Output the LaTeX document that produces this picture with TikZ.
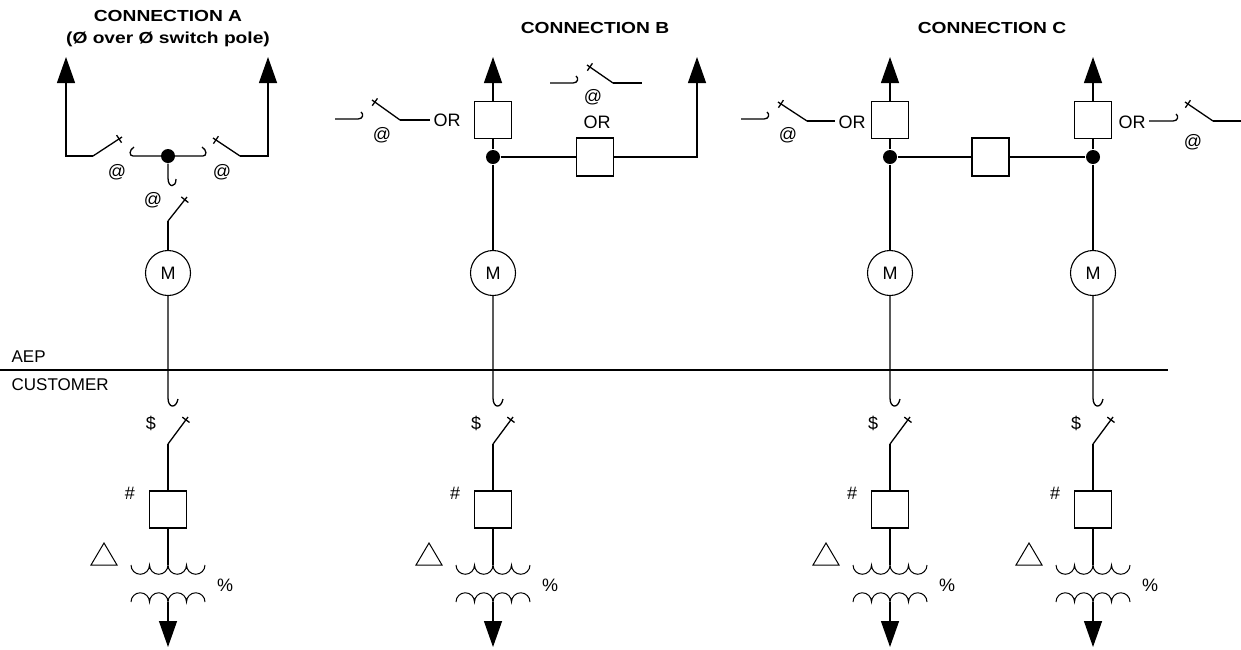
\documentclass[tikz,border=0pt]{standalone}
\usepackage{fontspec}
\setmainfont{Liberation Sans}
\newfontfamily\titlefont[FakeStretch=1.2]{Liberation Sans}
\usetikzlibrary{arrows.meta,calc}
\newcommand{\swblade}[2]{%
  \draw (#1) -- (#2);
  \path ($(#2)!3.5pt!(#1)$) coordinate (swt);
  \draw ($(swt)!4.5pt!90:(#2)$) -- ($(swt)!4.5pt!-90:(#2)$);}
\tikzset{
  upar/.style={-{Triangle[length=26pt,width=18pt]}},
  dotnode/.style={circle,fill,inner sep=0pt,minimum size=14pt},
  boxnode/.style={draw,line width=1.3pt,minimum width=37pt,minimum height=37pt,inner sep=0pt},
  motor/.style={draw,circle,line width=1.1pt,minimum size=45pt,inner sep=0pt,font=\fontsize{18}{20}\selectfont},
  lbl/.style={inner sep=0pt,font=\fontsize{18}{20}\selectfont},
  orlbl/.style={inner sep=3pt,font=\fontsize{18}{20}\selectfont},
  sidelbl/.style={inner sep=0pt,anchor=west,font=\fontsize{17}{20}\selectfont},
  ttl/.style={inner sep=0pt,align=center,font=\titlefont\bfseries\fontsize{16}{22}\selectfont},
  thin/.style={line width=1pt}
}
\begin{document}
\begin{tikzpicture}[x=1pt,y=-1pt,line width=1.3pt]
\useasboundingbox (0,0) rectangle (1241,649);

% titles
\node[ttl] (tA) at (168,29) {CONNECTION A\\(Ø over Ø switch pole)};
\node[ttl] (tB) at (595,28) {CONNECTION B};
\node[ttl] (tC) at (992,28) {CONNECTION C};

% lower repeated columns
\foreach \x/\n in {168/a,493/b,890/c,1093/d}{
  \node[motor] (m\n) at (\x,273) {M};
  \coordinate (h\n) at (\x,398);
  \draw (m\n) -- (h\n) .. controls (\x,408) and (\x+8,409) .. (\x+10,399);
  \coordinate (p\n) at (\x,444);
  \coordinate (e\n) at (\x+20,417);
  \swblade{p\n}{e\n}
  \node[boxnode] (f\n) at (\x,509.5) {};
  \draw (p\n) -- (f\n);
  \coordinate (t\n) at (\x,565);
  \draw (f\n) -- (t\n);
  \draw[thin] (\x-37,565) arc[start angle=180,end angle=0,radius=9.25]
     arc[start angle=180,end angle=0,radius=9.25]
     arc[start angle=180,end angle=0,radius=9.25]
     arc[start angle=180,end angle=0,radius=9.25];
  \draw[thin] (\x-37,602) arc[start angle=180,end angle=360,radius=9.25]
     arc[start angle=180,end angle=360,radius=9.25]
     arc[start angle=180,end angle=360,radius=9.25]
     arc[start angle=180,end angle=360,radius=9.25];
  \coordinate (s\n) at (\x,602);
  \coordinate (o\n) at (\x,647);
  \draw[upar] (s\n) -- (o\n);
  \draw[thin] (\x-77,565) -- (\x-51,565) -- (\x-64,543) -- cycle;
  \node[lbl] (dl\n) at (\x-17,423) {\$};
  \node[lbl] (hs\n) at (\x-38,493) {\#};
  \node[lbl] (pc\n) at (\x+57,585) {\%};
}

% AEP / customer boundary
\coordinate (L1) at (0,370);
\coordinate (L2) at (1168,370);
\draw (L1) -- (L2);
\node[sidelbl] (aep) at (11,357) {AEP};
\node[sidelbl] (cust) at (11,385) {CUSTOMER};

% ---------- Connection A ----------
\coordinate (aL) at (66,57);
\coordinate (aLc) at (66,156);
\coordinate (aLp) at (93,156);
\coordinate (aLe) at (122,137);
\draw[upar] (aLp) -- (aLc) -- (aL);
\swblade{aLp}{aLe}
\coordinate (aR) at (268,57);
\coordinate (aRc) at (268,156);
\coordinate (aRp) at (240,156);
\coordinate (aRe) at (213,138);
\draw[upar] (aRp) -- (aRc) -- (aR);
\swblade{aRp}{aRe}
\coordinate (aHl) at (133,156);
\coordinate (aHr) at (203,156);
\draw (134,147) .. controls (129,150) and (129,156) .. (aHl) -- (aHr)
      .. controls (207,156) and (207,150) .. (202,147);
\node[dotnode] (dA) at (168,156) {};
\coordinate (aDh) at (168,178);
\draw (dA) -- (aDh) .. controls (168,188) and (176,188) .. (176,179);
\coordinate (aDp) at (168,221);
\coordinate (aDe) at (187,197);
\swblade{aDp}{aDe}
\draw (aDp) -- (ma);
\node[lbl] (atA1) at (117,172) {@};
\node[lbl] (atA2) at (222,172) {@};
\node[lbl] (atA3) at (153,200) {@};

% ---------- Connection B ----------
\node[dotnode] (dB) at (493,157) {};
\node[boxnode] (bB1) at (493,120) {};
\coordinate (arB1) at (493,57);
\draw (dB) -- (bB1);
\draw[upar] (bB1.north) -- (arB1);
\draw (dB) -- (mb);
\node[boxnode,minimum height=38pt] (bB2) at (595,157) {};
\coordinate (cB2) at (697,157);
\coordinate (arB2) at (697,57);
\draw (dB) -- (bB2);
\draw[upar] (bB2) -- (cB2) -- (arB2);
% left switch
\coordinate (sBl1) at (335,119);
\coordinate (sBl2) at (358,119);
\draw (sBl1) -- (sBl2) .. controls (363,119) and (364,114) .. (361,112);
\coordinate (sBlp) at (400,120);
\coordinate (sBle) at (372,100);
\swblade{sBlp}{sBle}
\node[orlbl] (orB1) at (447,120) {OR};
\draw (sBlp) -- (orB1.west |- sBlp);
\node[lbl] (atB1) at (382,135) {@};
% upper switch
\coordinate (sBu1) at (550,83);
\coordinate (sBu2) at (573,83);
\draw (sBu1) -- (sBu2) .. controls (578,83) and (579,78) .. (576,76);
\coordinate (sBup) at (613,83);
\coordinate (sBue) at (587,65);
\coordinate (sBur) at (642,83);
\swblade{sBup}{sBue}
\draw (sBup) -- (sBur);
\node[lbl] (atB2) at (593,97) {@};
\node[lbl] (orB2) at (597,122) {OR};

% ---------- Connection C ----------
\node[dotnode] (dC1) at (890,157) {};
\node[dotnode] (dC2) at (1093,157) {};
\node[boxnode] (bC1) at (890,120) {};
\node[boxnode] (bC2) at (1093,120) {};
\node[boxnode,minimum height=38pt] (bC3) at (990.5,157) {};
\coordinate (arC1) at (890,57);
\coordinate (arC2) at (1093,57);
\draw (dC1) -- (bC1);
\draw (dC2) -- (bC2);
\draw[upar] (bC1.north) -- (arC1);
\draw[upar] (bC2.north) -- (arC2);
\draw (dC1) -- (bC3);
\draw (bC3) -- (dC2);
\draw (dC1) -- (mc);
\draw (dC2) -- (md);
% left switch
\coordinate (sCl1) at (741,119);
\coordinate (sCl2) at (764,119);
\draw (sCl1) -- (sCl2) .. controls (769,119) and (770,114) .. (767,112);
\coordinate (sClp) at (807,121);
\coordinate (sCle) at (778,102);
\swblade{sClp}{sCle}
\node[orlbl] (orC1) at (852,122) {OR};
\draw (sClp) -- (orC1.west |- sClp);
\node[lbl] (atC1) at (788,135) {@};
% right switch
\node[orlbl] (orC2) at (1132,122) {OR};
\coordinate (sCr1) at (1173,121);
\draw (orC2.east |- sCr1) -- (sCr1) .. controls (1178,121) and (1179,116) .. (1176,114);
\coordinate (sCrp) at (1213,121);
\coordinate (sCre) at (1185,102);
\coordinate (sCrr) at (1241,121);
\swblade{sCrp}{sCre}
\draw (sCrp) -- (sCrr);
\node[lbl] (atC2) at (1193,142) {@};
\end{tikzpicture}
\end{document}
